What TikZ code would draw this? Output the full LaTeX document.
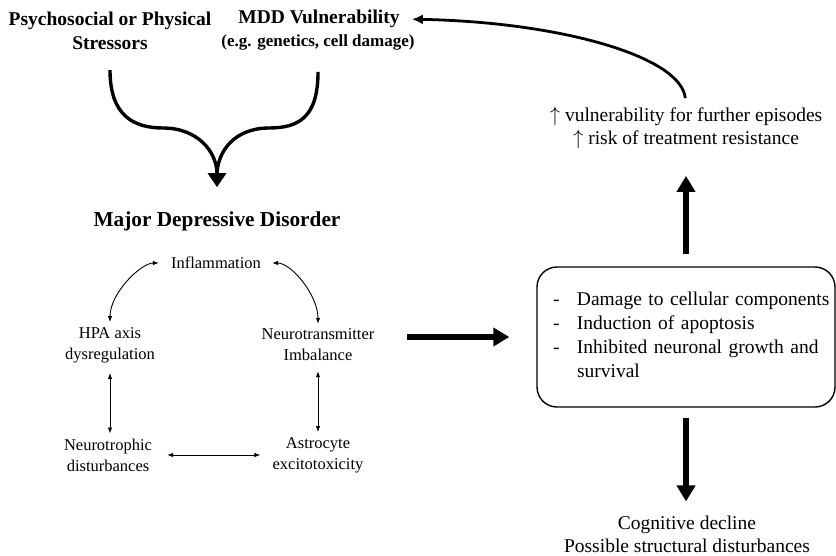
\documentclass[tikz,border=0pt]{standalone}
\usepackage{fontspec}
\setmainfont{Liberation Serif}
\usepackage{tikz}
\usetikzlibrary{arrows.meta,calc,positioning}

\tikzset{
  head/.style={font=\fontsize{19.5}{24}\selectfont\bfseries, align=center, inner sep=2pt},
  txt/.style={font=\fontsize{19.5}{23}\selectfont, align=center, inner sep=2pt},
  cyc/.style={font=\fontsize{16.5}{21}\selectfont, align=center, inner sep=2pt},
  link/.style={<->, line width=0.9pt},
  merge/.style={line width=3.4pt},
  back/.style={line width=2.8pt, -{Latex[length=11pt,width=10pt]}},
  fat/.style={line width=6pt, -{Triangle[length=16pt,width=18pt]}},
}

\begin{document}
\begin{tikzpicture}[x=1pt,y=-1pt,>={Latex[length=6pt,width=4.5pt]}]
  \useasboundingbox (0,0) rectangle (836,555);
  % top: causes
  \node[head] (stress) at (110,31) {Psychosocial or Physical\\Stressors};
  \node[head] (vuln) at (319,19) {MDD Vulnerability};
  \node[head,font=\fontsize{17}{20}\selectfont\bfseries] (vulnex) at (318,42) {(e.g. genetics, cell damage)};
  \node[head,font=\fontsize{21.3}{24}\selectfont\bfseries] (mdd) at (217,221) {Major Depressive Disorder};
  \draw[merge,-{Triangle[length=14pt,width=18pt]}] ([yshift=-18pt]stress.south) .. controls +(0,45) and +(-30,0) .. (163,128)
    .. controls +(35,0) and +(0,-35) .. ([yshift=22pt]mdd.north);
  \draw[merge,shorten >=12pt] ([yshift=-20pt]vulnex.south) .. controls +(0,45) and +(30,0) .. (269,128)
    .. controls +(-35,0) and +(0,-35) .. ([yshift=22pt]mdd.north);

  % cycle
  \node[cyc] (infl) at (216,263) {Inflammation};
  \node[cyc] (hpa) at (110,345) {HPA axis\\dysregulation};
  \node[cyc] (ntr) at (318,345) {Neurotransmitter\\Imbalance};
  \node[cyc] (ntro) at (108,455) {Neurotrophic\\disturbances};
  \node[cyc] (astro) at (318,455) {Astrocyte\\excitotoxicity};
  \draw[link,shorten <=3pt,shorten >=10pt] (hpa.north) .. controls +(0,-32) and +(-28,0) .. (infl.west);
  \draw[link,shorten <=3pt,shorten >=9pt] (ntr.north) .. controls +(0,-32) and +(28,0) .. (infl.east);
  \draw[link,shorten <=8pt,shorten >=3pt] (hpa.south) -- (hpa.south |- ntro.north);
  \draw[link,shorten <=8pt,shorten >=3pt] (ntr.south) -- (ntr.south |- astro.north);
  \draw[link,shorten <=13pt,shorten >=10pt] (ntro.east) -- (ntro.east -| astro.west);

  % consequences
  \node[draw, line width=1.4pt, rounded corners=20pt, minimum width=298pt, minimum height=140pt,
        text width=266pt, inner xsep=16pt, align=left, font=\fontsize{19.5}{24}\selectfont] (effects) at (686,337)
    {\begin{tabular}{@{}p{24pt}@{}l@{}}
      - & Damage to cellular components\\
      - & Induction of apoptosis\\
      - & Inhibited neuronal growth and\\
        & survival
     \end{tabular}};
  \node[txt] (risk) at (686,128) {$\uparrow$ vulnerability for further episodes\\$\uparrow$ risk of treatment resistance};
  \node[txt] (decline) at (687,534) {Cognitive decline\\Possible structural disturbances};
  \coordinate (feed) at (407,337);
  \draw[fat,shorten >=27pt] (feed) -- (effects.west);
  \draw[fat,shorten <=12pt,shorten >=25pt] (effects.north) -- (risk.south);
  \draw[fat,shorten <=10pt,shorten >=12pt] (effects.south) -- (effects.south |- decline.north);
  \draw[back,shorten <=7pt,shorten >=10pt] (risk.north) .. controls +(-5,-49) and +(157,3) .. (vuln.east);
\end{tikzpicture}
\end{document}
